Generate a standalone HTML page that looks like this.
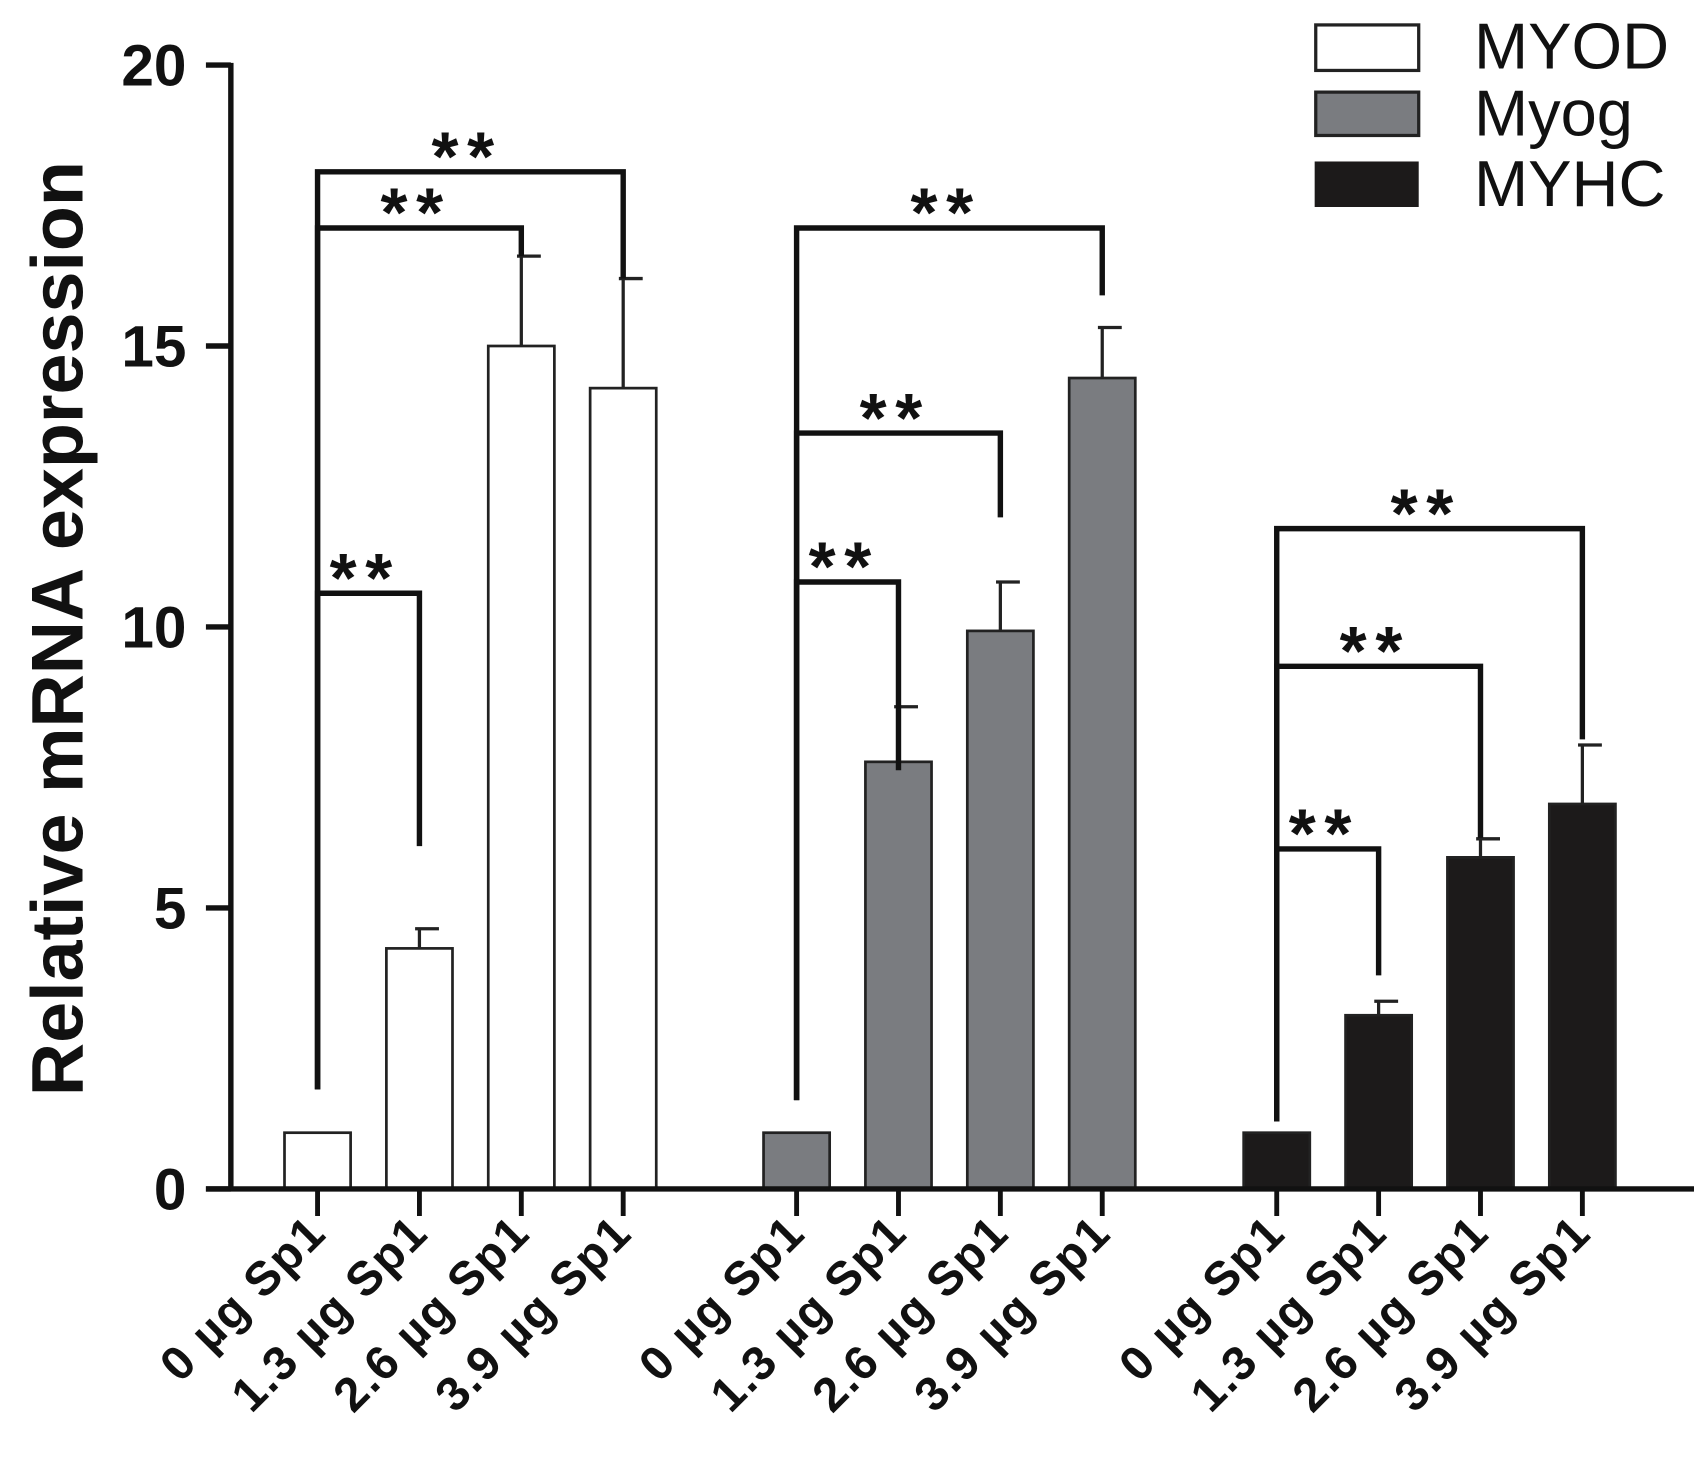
<!DOCTYPE html>
<html><head><meta charset="utf-8"><style>
html,body{margin:0;padding:0;background:#fff;}
svg{display:block;}
text{font-family:"Liberation Sans",Arial,sans-serif;}
</style></head><body>
<svg id="chart" width="1694" height="1480" viewBox="0 0 1563 1365.6" preserveAspectRatio="none" xmlns="http://www.w3.org/2000/svg">
<g id="legend">
  <rect x="1214" y="23" width="95" height="42" fill="#fff" stroke="#222" stroke-width="3"/>
  <text x="1360" y="63" font-size="60" fill="#111">MYOD</text>
  <rect x="1214" y="85" width="95" height="40" fill="#7a7c80" stroke="#222" stroke-width="3"/>
  <text x="1360" y="125" font-size="60" fill="#111">Myog</text>
  <rect x="1213" y="149" width="96" height="42" fill="#1c1a1a"/>
  <text x="1360" y="190" font-size="60" fill="#111">MYHC</text>
</g>
<text transform="translate(76,580) rotate(-90)" text-anchor="middle" font-size="68" font-weight="bold" fill="#111">Relative mRNA expression</text>
<g id="plot"></g>
</svg>
<script>
const categories = ["0 µg Sp1","1.3 µg Sp1","2.6 µg Sp1","3.9 µg Sp1"];
const seriesNames = ["MYOD","Myog","MYHC"];
const myodValues = [1, 4.28, 15.0, 14.25];
const myodErrors = [0, 0.35, 1.6, 1.95];
const myogValues = [1, 7.6, 9.93, 14.43];
const myogErrors = [0, 0.98, 0.87, 0.9];
const myhcValues = [1, 3.09, 5.9, 6.85];
const myhcErrors = [0, 0.25, 0.33, 1.05];
const yTicks = [0, 5, 10, 15, 20];
// significance brackets: [group, fromIdx, toIdx, barLevel, leftLegBottom, rightLegBottom]
const brackets = [
  [0,0,1,10.6,1.77,6.1],[0,0,2,17.1,1.77,16.6],[0,0,3,18.1,1.77,16.2],
  [1,0,1,10.8,1.58,7.45],[1,0,2,13.45,1.58,11.95],[1,0,3,17.1,1.58,15.9],
  [2,0,1,6.05,1.2,3.8],[2,0,2,9.3,1.2,6.25],[2,0,3,11.75,1.2,8.0]
];
const NS="http://www.w3.org/2000/svg";
const g=document.getElementById('plot');
const y0=1097, unit=(1097-60)/20;
const y=v=>y0-v*unit;
const groupStart=[293,735,1178], step=94;
const x=(gi,i)=>groupStart[gi]+i*step;
const fills=["#ffffff","#7a7c80","#1c1a1a"];
const vals=[myodValues,myogValues,myhcValues], errs=[myodErrors,myogErrors,myhcErrors];
function mk(tag,attrs){const e=document.createElementNS(NS,tag);for(const k in attrs)e.setAttribute(k,attrs[k]);g.appendChild(e);return e;}
for(let s=0;s<3;s++){for(let i=0;i<4;i++){
  const v=vals[s][i],cx=x(s,i),w=61;
  const r=mk('rect',{x:cx-w/2,y:y(v),width:w,height:y0-y(v),fill:fills[s],stroke:"#222","stroke-width":2.5});
  
  
  if(errs[s][i]>0){
    const e=mk('path',{d:`M${cx},${y(v)} V${y(v+errs[s][i])} M${cx-4},${y(v+errs[s][i])} H${cx+18}`,stroke:"#222","stroke-width":3,fill:"none"});
    
    
  }
  const t=mk('line',{x1:cx,x2:cx,y1:y0,y2:y0+25,stroke:"#111","stroke-width":4.5});
  
  
  const lb=mk('text',{transform:`translate(${cx+10},${1140}) rotate(-45)`,"text-anchor":"end","font-size":44,"font-weight":"bold",fill:"#111","letter-spacing":"1.5"});
  lb.textContent=categories[i];
  
  
}}
const ya=mk('line',{x1:213,x2:213,y1:58,y2:y0+2,stroke:"#111","stroke-width":5});


const xa=mk('line',{x1:190,x2:1563,y1:y0,y2:y0,stroke:"#111","stroke-width":5});


yTicks.forEach(v=>{
  const t=mk('line',{x1:190,x2:213,y1:y(v),y2:y(v),stroke:"#111","stroke-width":5});
  
  
  const l=mk('text',{x:172,y:y(v)+19,"text-anchor":"end","font-size":54,"font-weight":"bold",fill:"#111"});
  l.textContent=v;
  
  
});
brackets.forEach(b=>{
  const [gi,a,c,lv,lb,rb]=b;
  const x1=x(gi,a),x2=x(gi,c);
  const p=mk('path',{d:`M${x1},${y(lb)} V${y(lv)} H${x2} V${y(rb)}`,stroke:"#111","stroke-width":5,fill:"none"});
  
  
  const s=mk('text',{x:(x1+x2)/2-3,y:y(lv)+8,"text-anchor":"middle","font-size":64,"font-weight":"bold",fill:"#111","letter-spacing":"8"});
  s.textContent="**";
  
  
});
</script>
</body></html>
